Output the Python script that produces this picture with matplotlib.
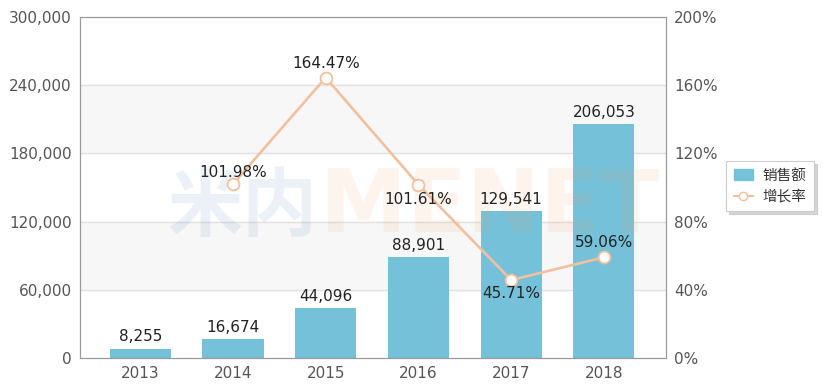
import numpy as np
import matplotlib.pyplot as plt
from matplotlib.lines import Line2D
from matplotlib.patches import Rectangle

plt.rcParams['font.family'] = ['DejaVu Sans', 'Noto Sans CJK SC']

years = ['2013', '2014', '2015', '2016', '2017', '2018']
sales = [8255, 16674, 44096, 88901, 129541, 206053]
growth_years = ['2014', '2015', '2016', '2017', '2018']
growth = [101.98, 164.47, 101.61, 45.71, 59.06]
# label offsets (points) for the growth labels
growth_offsets = [(0, 3), (0, 5), (0, -5), (0, -4), (0, 5)]

bar_color = '#75c1da'
line_color = '#f2c09c'
text_color = '#555555'

fig = plt.figure(figsize=(8.23, 3.9), dpi=100)
ax = fig.add_axes([80 / 823, 32 / 390, 586 / 823, 341 / 390])
ax2 = ax.twinx()

x = np.arange(len(years))
ax.set_xlim(-0.65, 5.67)
ax.set_ylim(0, 300000)
yt = np.arange(0, 300001, 60000)
ax.set_yticks(yt)
ax.set_yticklabels([f'{v:,}' for v in yt])

# alternating bands
for lo in (60000, 180000):
    ax.axhspan(lo, lo + 60000, color='#f7f7f7', zorder=0)
for v in yt[1:-1]:
    ax.axhline(v, color='#e2e2e2', lw=1, zorder=0.5)

bars = ax.bar(x, sales, width=0.66, color=bar_color, zorder=2)
for xi, v in zip(x, sales):
    ax.annotate(f'{v:,}', (xi, v), xytext=(0, 3), textcoords='offset points',
                ha='center', va='bottom', fontsize=11, color='#222222', zorder=5)

# watermark
ax.text(0.405, 0.44, '米内', transform=ax.transAxes, fontsize=54, color='#3f7fae',
        alpha=0.10, ha='right', va='center', fontweight='bold',
        family=['Noto Sans CJK SC'], zorder=3)
ax.text(0.41, 0.44, 'MENET', transform=ax.transAxes, fontsize=63, color='#f0a060',
        alpha=0.11, ha='left', va='center', fontweight='bold', zorder=3)

ax.set_xticks(x)
ax.set_xticklabels(years)

ax2.set_ylim(0, 200)
ax2.set_yticks(np.arange(0, 201, 40))
ax2.set_yticklabels([f'{v}%' for v in range(0, 201, 40)])

gx = [years.index(y) for y in growth_years]
ax2.plot(gx, growth, color=line_color, lw=1.9, marker='o', ms=8.5,
         mfc='white', mec=line_color, mew=1.3, zorder=4)
for xi, v, off in zip(gx, growth, growth_offsets):
    ax2.annotate(f'{v:.2f}%', (xi, v), xytext=off, textcoords='offset points',
                 ha='center', va='bottom' if off[1] > 0 else 'top',
                 fontsize=11, color='#222222', zorder=6)

for a in (ax, ax2):
    a.tick_params(length=0, labelsize=11, labelcolor=text_color, pad=6)
    for s in a.spines.values():
        s.set_color('#999999')
ax.set_zorder(ax2.get_zorder() - 1)
ax.patch.set_visible(True)
ax2.patch.set_visible(False)

# legend
handles = [Rectangle((0, 0), 1, 1, color=bar_color),
           Line2D([], [], color=line_color, lw=1.5, marker='o', ms=6,
                  mfc='white', mec=line_color)]
leg = fig.legend(handles, ['销售额', '增长率'], loc='upper left',
                 bbox_to_anchor=(719 / 823, 1 - 154 / 390), frameon=True,
                 handlelength=1.3, handletextpad=0.7, borderpad=0.5,
                 labelspacing=0.5,
                 prop={'family': ['Noto Sans CJK SC'], 'size': 10.5},
                 fancybox=False, shadow={'color': '#bbbbbb', 'alpha': 0.6})
leg.get_frame().set_edgecolor('#cccccc')
leg.get_frame().set_linewidth(0.8)
for t in leg.get_texts():
    t.set_color('#333333')

fig.savefig('out.png', dpi=100)
